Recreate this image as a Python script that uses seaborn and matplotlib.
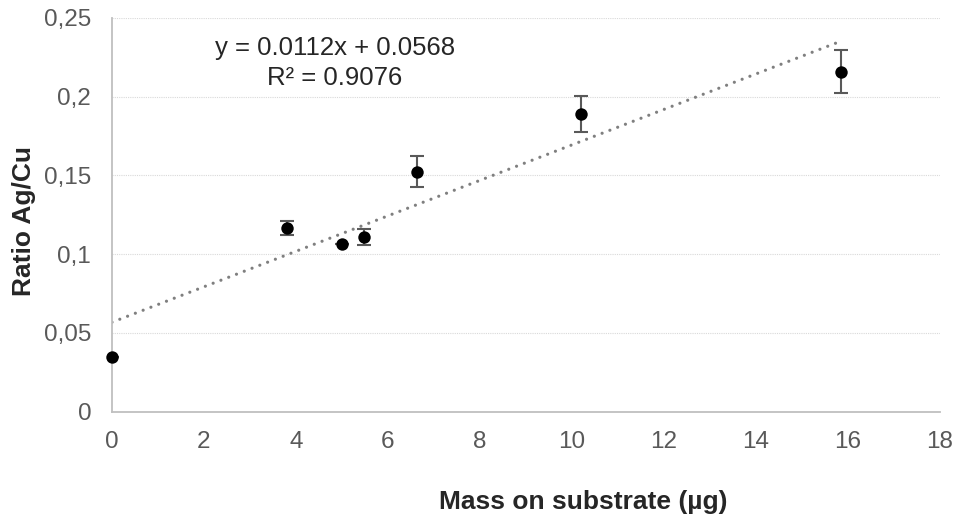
import numpy as np
import pandas as pd
import matplotlib
matplotlib.use("Agg")
import matplotlib.pyplot as plt
import seaborn as sns

# data
mass = [0.0, 3.8, 5.0, 5.47, 6.62, 10.19, 15.85]
ratio = [0.035, 0.1165, 0.1065, 0.1108, 0.1525, 0.189, 0.216]
err = [0.0, 0.0045, 0.0, 0.005, 0.010, 0.0114, 0.0135]

y_ticks = [0, 0.05, 0.1, 0.15, 0.2, 0.25]
y_ticklabels = ["0", "0,05", "0,1", "0,15", "0,2", "0,25"]
x_ticks = list(range(0, 19, 2))

eq_text = "y = 0.0112x + 0.0568\nR² = 0.9076"

df = pd.DataFrame({"mass": mass, "ratio": ratio, "err": err})

sns.set_style("white")
plt.rcParams["font.family"] = ["Liberation Sans", "DejaVu Sans"]

fig = plt.figure(figsize=(9.55, 5.18), dpi=100)
ax = fig.add_axes([112 / 955, 1 - 411.7 / 518, (940 - 112) / 955, (411.7 - 18) / 518])

# trend line (linear fit)
sns.regplot(data=df, x="mass", y="ratio", ax=ax, scatter=False, ci=None,
            line_kws=dict(color="#7f7f7f", lw=2.3, ls=(0, (0.01, 2.6)),
                          dash_capstyle="round"))

ax.errorbar(df["mass"], df["ratio"], yerr=df["err"], fmt="none",
            ecolor="#595959", elinewidth=1.5, capsize=5, capthick=1.5, zorder=3)
sns.scatterplot(data=df, x="mass", y="ratio", ax=ax, color="black", s=80,
                edgecolor="black", linewidth=0, zorder=4, clip_on=False)

ax.set_xlim(0, 18)
ax.set_ylim(0, 0.25)
ax.set_xticks(x_ticks)
ax.set_yticks(y_ticks)
ax.set_yticklabels(y_ticklabels)

for y in y_ticks[1:]:
    ax.axhline(y, color="#d9d9d9", lw=0.8, ls=(0, (1, 1)), zorder=0)

for s in ["top", "right"]:
    ax.spines[s].set_visible(False)
for s in ["left", "bottom"]:
    ax.spines[s].set_color("#bfbfbf")
    ax.spines[s].set_linewidth(1.3)

ax.tick_params(axis="x", direction="inout", length=10, width=1.3, color="#bfbfbf",
               labelsize=17.5, labelcolor="#595959", pad=9)
ax.tick_params(axis="y", direction="out", length=6, width=1.3, color="#bfbfbf",
               labelsize=17.5, labelcolor="#595959", pad=9)

ax.set_xlabel("")
ax.set_ylabel("")
fig.text(583 / 955, 1 - 502 / 518, "Mass on substrate (µg)", ha="center", va="center",
         fontsize=19, fontweight="bold")
fig.text(23.5 / 955, 1 - 221 / 518, "Ratio Ag/Cu", ha="center", va="center",
         rotation=90, fontsize=19, fontweight="bold")

ax.text(4.85, 0.2215, eq_text, ha="center", va="center", fontsize=18.5,
        linespacing=1.35)

fig.savefig("out.png", dpi=100)
